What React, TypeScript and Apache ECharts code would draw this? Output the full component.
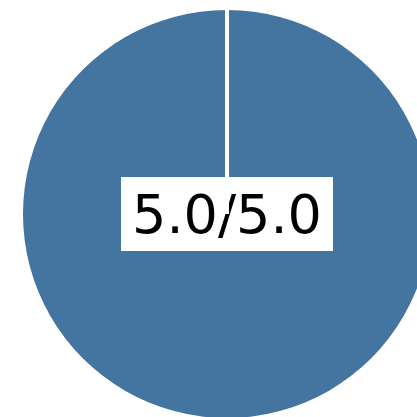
import React, { useEffect, useRef } from "react";
import * as echarts from "echarts";

const categories = ["Score"];
const values = [5.0];
const maxValue = 5.0;

export default function App() {
  const ref = useRef<HTMLDivElement>(null);
  useEffect(() => {
    if (!ref.current) return;
    const chart = echarts.init(ref.current, null, { renderer: "svg" });
    const cx = 227;
    const cy = 214;
    const r = 204;
    chart.setOption({
      animation: false,
      graphic: [
        {
          type: "line",
          z: 3,
          shape: { x1: cx, y1: cy - r - 2, x2: cx, y2: cy },
          style: { stroke: "#ffffff", lineWidth: 4 },
        },
      ],
      series: [
        {
          type: "pie",
          center: [cx, cy],
          radius: [0, r],
          startAngle: 90,
          silent: true,
          z: 2,
          data: categories.map((c, i) => ({ name: c, value: values[i] })),
          itemStyle: { color: "#4474a0" },
          label: {
            show: true,
            position: "center",
            formatter: () => `${values[0].toFixed(1)}/${maxValue.toFixed(1)}`,
            fontFamily: "DejaVu Sans",
            fontSize: 54,
            color: "#000000",
            backgroundColor: "#ffffff",
            padding: [10, 11, 10, 11],
            lineHeight: 54,
          },
          labelLine: { show: false },
          emphasis: { disabled: true },
        },
      ],
    });
    return () => chart.dispose();
  }, []);
  return (
    <div
      ref={ref}
      style={{ position: "fixed", left: 0, top: 0, width: 417, height: 417, background: "#ffffff" }}
    />
  );
}
